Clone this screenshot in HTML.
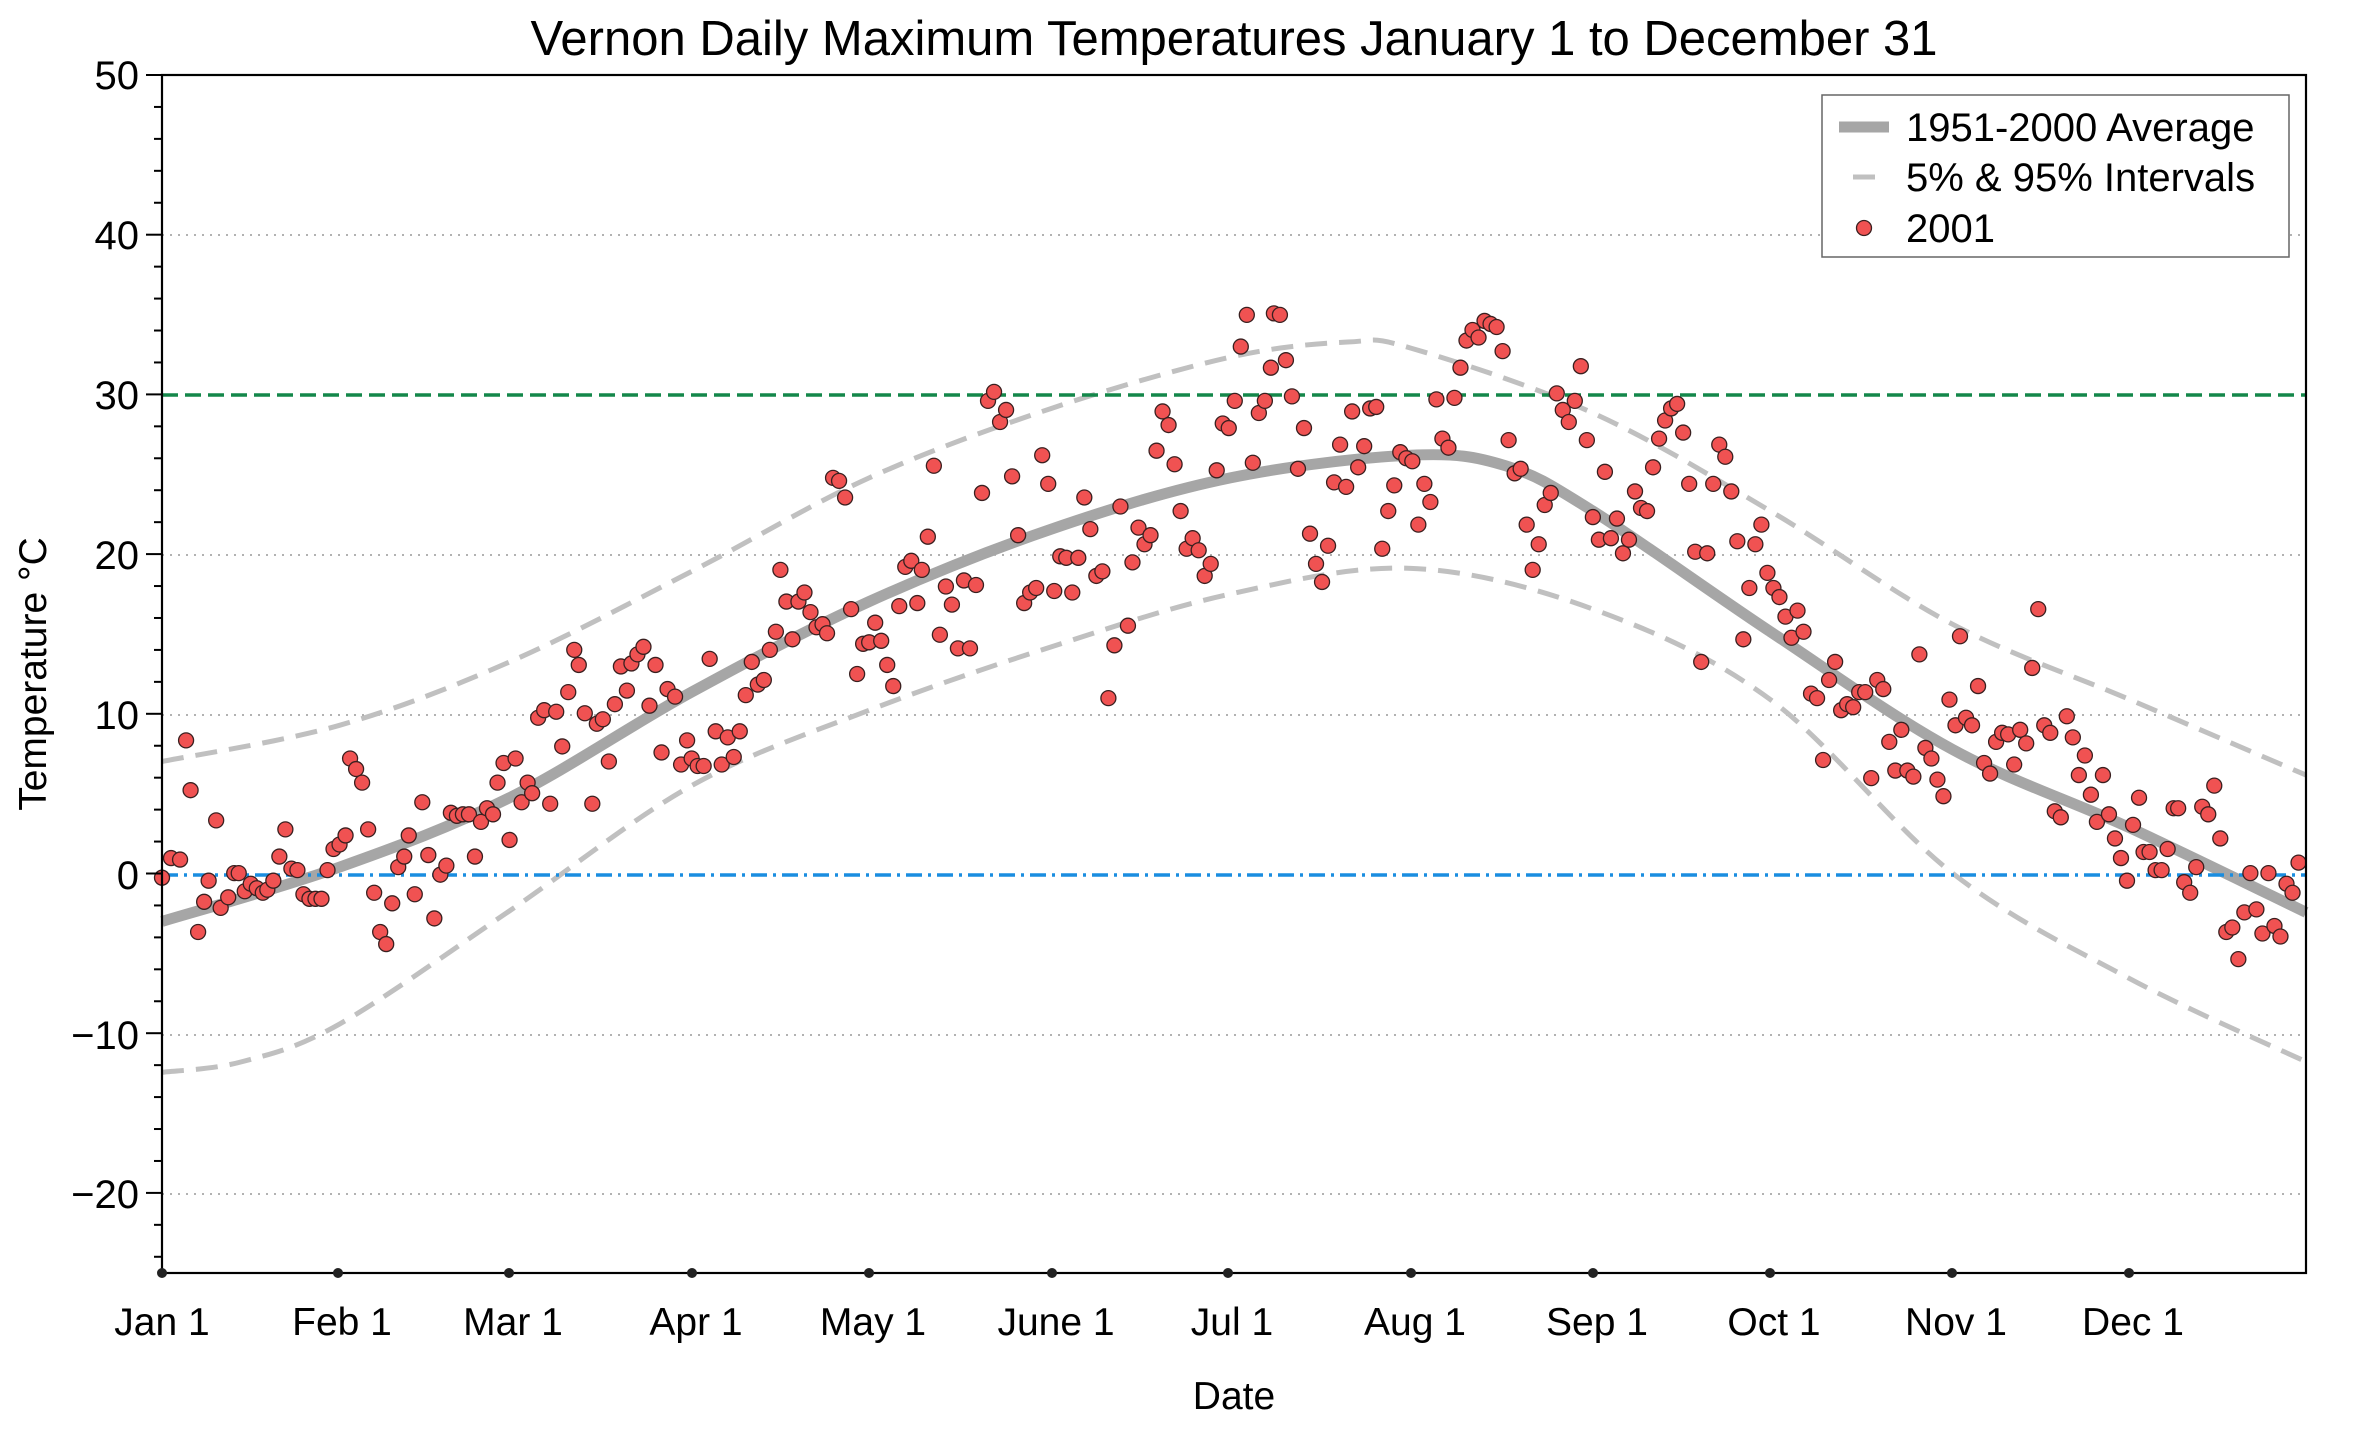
<!DOCTYPE html>
<html><head><meta charset="utf-8">
<style>
html,body{margin:0;padding:0;background:#fff;}
svg{display:block;font-family:"Liberation Sans",Arial,sans-serif;}
</style></head>
<body>
<svg id="s" width="2360" height="1432" viewBox="0 0 2360 1432" xmlns="http://www.w3.org/2000/svg">
<rect width="2360" height="1432" fill="#fff"/>
<text x="1234" y="55" font-size="49" text-anchor="middle" fill="#000">Vernon Daily Maximum Temperatures January 1 to December 31</text>
<g stroke="#999" stroke-width="1.6" stroke-dasharray="2,6">
<line x1="162" x2="2306" y1="235" y2="235"/>
<line x1="162" x2="2306" y1="555" y2="555"/>
<line x1="162" x2="2306" y1="715" y2="715"/>
<line x1="162" x2="2306" y1="1035" y2="1035"/>
<line x1="162" x2="2306" y1="1194" y2="1194"/>
</g>
<g id="curves"></g>
<line x1="162" x2="2306" y1="395" y2="395" stroke="#14874a" stroke-width="3.5" stroke-dasharray="16,7"/>
<line x1="162" x2="2306" y1="875" y2="875" stroke="#1a8de0" stroke-width="3.5" stroke-dasharray="16,6,3,6"/>
<g id="dots"></g>
<g id="yticks" stroke="#000" stroke-width="2"></g>
<rect x="162" y="75" width="2144" height="1198" fill="none" stroke="#000" stroke-width="2.2"/>
<g font-size="40" text-anchor="end" fill="#000">
<text x="139" y="89">50</text>
<text x="139" y="249">40</text>
<text x="139" y="409">30</text>
<text x="139" y="569">20</text>
<text x="139" y="729">10</text>
<text x="139" y="889">0</text>
<text x="139" y="1049">−10</text>
<text x="139" y="1208">−20</text>
</g>
<g fill="#222">
<circle cx="162" cy="1273" r="5"/><circle cx="338" cy="1273" r="5"/><circle cx="509" cy="1273" r="5"/><circle cx="692" cy="1273" r="5"/><circle cx="869" cy="1273" r="5"/><circle cx="1052" cy="1273" r="5"/><circle cx="1228" cy="1273" r="5"/><circle cx="1411" cy="1273" r="5"/><circle cx="1593" cy="1273" r="5"/><circle cx="1770" cy="1273" r="5"/><circle cx="1952" cy="1273" r="5"/><circle cx="2129" cy="1273" r="5"/>
</g>
<g font-size="39" text-anchor="middle" fill="#000">
<text x="162" y="1355" dy="-20">Jan 1</text><text x="342" y="1335">Feb 1</text><text x="513" y="1335">Mar 1</text><text x="696" y="1335">Apr 1</text><text x="873" y="1335">May 1</text><text x="1056" y="1335">June 1</text><text x="1232" y="1335">Jul 1</text><text x="1415" y="1335">Aug 1</text><text x="1597" y="1335">Sep 1</text><text x="1774" y="1335">Oct 1</text><text x="1956" y="1335">Nov 1</text><text x="2133" y="1335">Dec 1</text>
<text x="1234" y="1409">Date</text>
<text x="0" y="0" transform="translate(46,674) rotate(-90)">Temperature °C</text>
</g>
<rect x="1822" y="95" width="467" height="162" fill="#fff" stroke="#666" stroke-width="1.5"/>
<line x1="1839" x2="1889" y1="127" y2="127" stroke="#a6a6a6" stroke-width="11"/>
<line x1="1853" x2="1875" y1="177" y2="177" stroke="#c0c0c0" stroke-width="5"/>
<circle cx="1864" cy="228" r="7.5" fill="#f05252" stroke="#3a2020" stroke-width="1.3"/>
<g font-size="40" fill="#000">
<text x="1906" y="141">1951-2000 Average</text>
<text x="1906" y="191">5% &amp; 95% Intervals</text>
<text x="1906" y="242">2001</text>
</g>
</svg>
<script>
(function(){
var NS="http://www.w3.org/2000/svg";
function X(x){return 162+(x-107)*1.5046;}
function Y(y){return 75+(y-51)*1.5088;}
var yt=document.getElementById('yticks');
for(var i=0;i<=37;i++){var tv=50-2*i;var yy=75+(50-tv)*15.97;var maj=(tv%10===0);
 var l=document.createElementNS(NS,'line');l.setAttribute('x1',maj?146:154);l.setAttribute('x2',162);l.setAttribute('y1',yy);l.setAttribute('y2',yy);yt.appendChild(l);}
function cr(pts){
 var d="M"+pts[0][0]+","+pts[0][1];
 for(var i=0;i<pts.length-1;i++){var p0=pts[i-1]||pts[i],p1=pts[i],p2=pts[i+1],p3=pts[i+2]||p2;
  d+=" C"+(p1[0]+(p2[0]-p0[0])/6)+","+(p1[1]+(p2[1]-p0[1])/6)+" "+(p2[0]-(p3[0]-p1[0])/6)+","+(p2[1]-(p3[1]-p1[1])/6)+" "+p2[0]+","+p2[1];}
 return d;}
function conv(a){return a.map(function(p){return [X(p[0]),Y(p[1])];});}
var avg=conv([[107,612],[225,576],[338,530],[459,460],[577,400],[698,352],[817,318],[937,303],[1000,310],[1058,340],[1176,420],[1297,498],[1415,550],[1532,606]]);
var up=conv([[107,506],[225,482],[338,440],[459,380],[577,318],[698,272],[817,238],[895,228],[937,232],[1058,275],[1176,340],[1297,415],[1415,465],[1532,515]]);
var lo=conv([[107,712],[160,705],[225,680],[338,605],[459,522],[577,472],[698,430],[817,395],[937,378],[1058,405],[1176,465],[1297,580],[1415,650],[1532,705]]);
var g=document.getElementById('curves');
function path(d,c,w,da){var p=document.createElementNS(NS,'path');p.setAttribute('d',d);p.setAttribute('fill','none');p.setAttribute('stroke',c);p.setAttribute('stroke-width',w);if(da)p.setAttribute('stroke-dasharray',da);g.appendChild(p);}
path(cr(up),'#c0c0c0',5,'22,12');
path(cr(lo),'#c0c0c0',5,'22,12');
path(cr(avg),'#a6a6a6',11);
var pts=[[107,583],[113,570],[119,571],[123,492],[126,525],[131,619],[135,599],[138,585],[143,545],[146,603],[151,596],[155,580],[158,580],[162,592],[166,587],[170,590],[174,593],[177,591],[181,585],[185,569],[189,551],[193,577],[197,578],[201,594],[205,597],[209,597],[213,597],[217,578],[221,564],[225,561],[229,555],[232,504],[236,511],[240,520],[244,551],[248,593],[252,619],[256,627],[260,600],[264,576],[268,569],[271,555],[275,594],[280,533],[284,568],[288,610],[292,581],[296,575],[299,540],[303,542],[307,541],[311,541],[315,569],[319,546],[323,537],[327,541],[330,520],[334,507],[338,558],[342,504],[346,533],[350,520],[353,527],[357,477],[361,472],[365,534],[369,473],[373,496],[377,460],[381,432],[384,442],[388,474],[393,534],[396,481],[400,478],[404,506],[408,468],[412,443],[416,459],[419,441],[423,435],[427,430],[431,469],[435,442],[439,500],[443,458],[448,463],[452,508],[456,492],[459,504],[463,509],[467,509],[471,438],[475,486],[479,508],[483,490],[487,503],[491,486],[495,462],[499,440],[503,455],[507,452],[511,432],[515,420],[518,379],[522,400],[526,425],[530,400],[534,394],[538,407],[542,417],[546,415],[549,421],[553,318],[557,320],[561,331],[565,405],[569,448],[573,428],[577,427],[581,414],[585,426],[589,442],[593,456],[597,403],[601,377],[605,373],[609,401],[612,379],[616,357],[620,310],[624,422],[628,390],[632,402],[636,431],[640,386],[644,431],[648,389],[652,328],[656,267],[660,261],[664,281],[668,273],[672,317],[676,356],[680,401],[684,394],[688,391],[692,303],[696,322],[700,393],[704,370],[708,371],[712,394],[716,371],[720,331],[724,352],[728,383],[732,380],[736,464],[740,429],[744,337],[749,416],[752,374],[756,351],[760,362],[764,356],[768,300],[772,274],[776,283],[780,309],[784,340],[788,365],[792,358],[796,366],[800,383],[804,375],[808,313],[812,282],[816,285],[820,267],[824,231],[828,210],[832,308],[836,275],[840,267],[844,245],[846,209],[850,210],[854,240],[858,264],[862,312],[866,285],[870,355],[874,375],[878,387],[882,363],[886,321],[890,296],[894,324],[898,274],[902,311],[906,297],[910,272],[914,271],[918,365],[922,340],[926,323],[930,301],[934,305],[938,307],[942,349],[946,322],[950,334],[954,266],[958,292],[962,298],[966,265],[970,245],[974,227],[978,220],[982,225],[986,214],[990,216],[994,218],[998,234],[1002,293],[1006,315],[1010,312],[1014,349],[1018,379],[1022,362],[1026,336],[1030,328],[1034,262],[1038,273],[1042,281],[1046,267],[1050,244],[1054,293],[1058,344],[1062,359],[1066,314],[1070,358],[1074,345],[1078,368],[1082,359],[1086,327],[1090,338],[1094,340],[1098,311],[1102,292],[1106,280],[1110,272],[1114,269],[1118,288],[1122,322],[1126,367],[1130,440],[1134,368],[1138,322],[1142,296],[1146,304],[1150,327],[1154,360],[1158,425],[1162,391],[1166,362],[1170,349],[1174,381],[1178,391],[1182,397],[1186,410],[1190,424],[1194,406],[1198,420],[1203,461],[1207,464],[1211,505],[1215,452],[1219,440],[1223,472],[1227,468],[1231,470],[1235,460],[1239,460],[1243,517],[1247,452],[1251,458],[1255,493],[1259,512],[1263,485],[1267,512],[1271,516],[1275,435],[1279,497],[1283,504],[1287,518],[1291,529],[1295,465],[1299,482],[1302,423],[1306,477],[1310,482],[1314,456],[1318,507],[1322,514],[1326,493],[1330,487],[1334,488],[1338,508],[1342,485],[1346,494],[1350,444],[1354,405],[1358,482],[1362,487],[1365,539],[1369,543],[1373,476],[1377,490],[1381,515],[1385,502],[1389,528],[1393,546],[1397,515],[1401,541],[1405,557],[1409,570],[1413,585],[1417,548],[1421,530],[1424,566],[1428,566],[1432,578],[1436,578],[1440,564],[1444,537],[1447,537],[1451,586],[1455,593],[1459,576],[1463,536],[1467,541],[1471,522],[1475,557],[1479,619],[1483,616],[1487,637],[1491,606],[1495,580],[1499,604],[1503,620],[1507,580],[1511,615],[1515,622],[1519,587],[1523,593],[1527,573]];
var dg=document.getElementById('dots');
pts.forEach(function(p){var c=document.createElementNS(NS,'circle');c.setAttribute('cx',X(p[0]));c.setAttribute('cy',Y(p[1]));c.setAttribute('r',7.5);c.setAttribute('fill','#f05252');c.setAttribute('stroke','#3a2020');c.setAttribute('stroke-width',1.3);dg.appendChild(c);});
})();
</script>
</body></html>
